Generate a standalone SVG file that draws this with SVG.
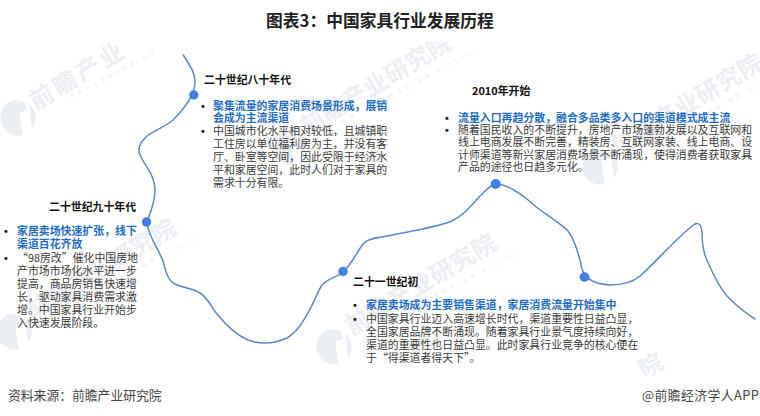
<svg xmlns="http://www.w3.org/2000/svg" width="760" height="416" viewBox="0 0 760 416">
<style>
text{font-family:"Noto Sans CJK SC","Noto Sans",sans-serif}
.title{font-size:16.75px;font-weight:700;fill:#222}
.h{font-size:10.9px;font-weight:700;fill:#111}
.b{font-size:10.9px;font-weight:700;fill:#1f6dc4}
.t{font-size:10.9px;fill:#3a3a3a}
.bu{font-size:10.9px;font-weight:700;fill:#222;font-family:"Liberation Sans",sans-serif}
.f{font-size:12.8px;fill:#444}
.wm{font-size:24px;font-weight:700;fill:#ebeef2;letter-spacing:.5px}
.ws{font-size:5.5px;fill:#eef0f3}
.logo{fill:#ebeef2}
.dot{fill:#3f80e2}
.curve{fill:none;stroke:#5b87c9;stroke-width:1.5;stroke-linecap:round}
</style>
<defs>
<path id="lg" class="logo" d="M-3-18A18 18 0 0 0 6 17L2-5L10-8L8-15C5-17 1-18-3-18ZM12-14L15 11A18 18 0 0 0 12-14Z"/>
<g id="wmark">
<use href="#lg" x="-25" y="25"/>
<text class="wm" x="-6.200" y="13.400" transform="rotate(-31 -6.200 13.400)">前瞻产业研究院</text>
<text class="ws" x="29" y="2" transform="rotate(-28 29 2)" textLength="150">中国产业咨询领导者(股票 839599)</text>
</g>
</defs>
<rect width="760" height="416" fill="#fff"/>
<g id="watermarks">
<g transform="translate(42 97)">
<use href="#lg" x="-25" y="21"/>
<text class="wm" x="-6.200" y="13.400" transform="rotate(-31 -6.200 13.400)" style="letter-spacing:3px">前瞻产业</text>
<text class="ws" x="29" y="2" transform="rotate(-28 29 2)" textLength="95">中国产业咨询领导者(股票</text>
</g>
<use href="#wmark" x="313" y="122"/>
<use href="#wmark" x="624" y="142"/>
<use href="#wmark" x="38" y="307"/>
<use href="#wmark" x="358" y="322"/>
<text class="wm" x="645" y="379" transform="rotate(-31 645 379)">院</text>
<rect x="0" y="0" width="760" height="42" fill="#fff"/>
<rect x="0" y="376" width="760" height="40" fill="#fff"/>
</g>
<text id="title" class="title" x="266" y="26.500">图表3：中国家具行业发展历程</text>
<g id="connectors">
<path class="curve" d="M183.300 55C190 66 195 72 195 82C195 92 190 103 173 120C162 129 152 131 145 138C139 144 137 150 141 157C146 167 155 176 155 190C155 200 152 208 147 222C148 236 158 248 163 261C166 272 168 281 175 284C183 288 192 288 200 293C208 298 212 308 217 314C226 325 236 335 248 340C262 345 276 343 287 338C298 331 304 320 309 311C314 302 318 291 322 285C327 279 337 277 343 272C351 265 357 252 363 244C367 239 375 238 382 237C405 232 435 228 452 221C464 215 472 205 480 196C486 190 490 185 496 184C506 184 521 193 535 206C545 214 560 223 568 231C575 240 579 255 582 269C585 280 595 284 610 285C622 285 633 282 640 276C655 263 680 234 695 224C699 222 701 225 702 232C702 243 703 250 706 258C712 272 720 290 730 299C738 307 747 314 755 319"/>
</g>
<g id="node-1980s">
<circle class="dot" cx="193.800" cy="95" r="4.700"/>
<text class="h" x="204" y="84">二十世纪八十年代</text>
<text class="bu" x="201" y="109.500">•</text>
<text class="b" x="213" y="109.500">聚集流量的家居消费场景形成，展销</text>
<text class="b" x="213" y="122">会成为主流渠道</text>
<text class="bu" x="201" y="135">•</text>
<text class="t" x="213" y="135">中国城市化水平相对较低，且城镇职</text>
<text class="t" x="213" y="148">工住房以单位福利房为主，并没有客</text>
<text class="t" x="213" y="161">厅、卧室等空间，因此受限于经济水</text>
<text class="t" x="213" y="174">平和家居空间，此时人们对于家具的</text>
<text class="t" x="213" y="187">需求十分有限。</text>
</g>
<g id="node-1990s">
<circle class="dot" cx="146.500" cy="222" r="4.700"/>
<text class="h" x="49" y="211">二十世纪九十年代</text>
<text class="bu" x="4" y="235">•</text>
<text class="b" x="17" y="235">家居卖场快速扩张，线下</text>
<text class="b" x="17" y="248">渠道百花齐放</text>
<text class="bu" x="4" y="262">•</text>
<text class="t" x="17" y="262">“98房改”催化中国房地</text>
<text class="t" x="17" y="275">产市场市场化水平进一步</text>
<text class="t" x="17" y="288">提高，商品房销售快速增</text>
<text class="t" x="17" y="301">长，驱动家具消费需求激</text>
<text class="t" x="17" y="314">增。中国家具行业开始步</text>
<text class="t" x="17" y="327">入快速发展阶段。</text>
</g>
<g id="node-2000s">
<circle class="dot" cx="343" cy="271.500" r="4.700"/>
<text class="h" x="353" y="286">二十一世纪初</text>
<text class="bu" x="353" y="309">•</text>
<text class="b" x="366" y="309">家居卖场成为主要销售渠道，家居消费流量开始集中</text>
<text class="bu" x="353" y="323">•</text>
<text class="t" x="366" y="323">中国家具行业迈入高速增长时代，渠道重要性日益凸显，</text>
<text class="t" x="366" y="336">全国家居品牌不断涌现。随着家具行业景气度持续向好，</text>
<text class="t" x="366" y="349">渠道的重要性也日益凸显。此时家具行业竞争的核心便在</text>
<text class="t" x="366" y="362">于“得渠道者得天下”。</text>
</g>
<g id="node-2010">
<circle class="dot" cx="495.700" cy="184" r="5"/>
<text class="h" x="472" y="95">2010年开始</text>
<text class="bu" x="445" y="122">•</text>
<text class="b" x="458" y="122">流量入口再趋分散，融合多品类多入口的渠道模式成主流</text>
<text class="bu" x="445" y="133.500">•</text>
<text class="t" x="458" y="133.500">随着国民收入的不断提升，房地产市场蓬勃发展以及互联网和</text>
<text class="t" x="458" y="146">线上电商发展不断完善，精装房、互联网家装、线上电商、设</text>
<text class="t" x="458" y="158.500">计师渠道等新兴家居消费场景不断涌现，使得消费者获取家具</text>
<text class="t" x="458" y="170.500">产品的途径也日趋多元化。</text>
</g>
<g id="node-end">
<ellipse class="dot" cx="584.500" cy="277" rx="5" ry="4.700"/>
</g>
<text id="source" class="f" x="8" y="399.500">资料来源：前瞻产业研究院</text>
<text id="brand" class="f" x="642" y="399.500" style="letter-spacing:.45px">@前瞻经济学人APP</text>
</svg>
